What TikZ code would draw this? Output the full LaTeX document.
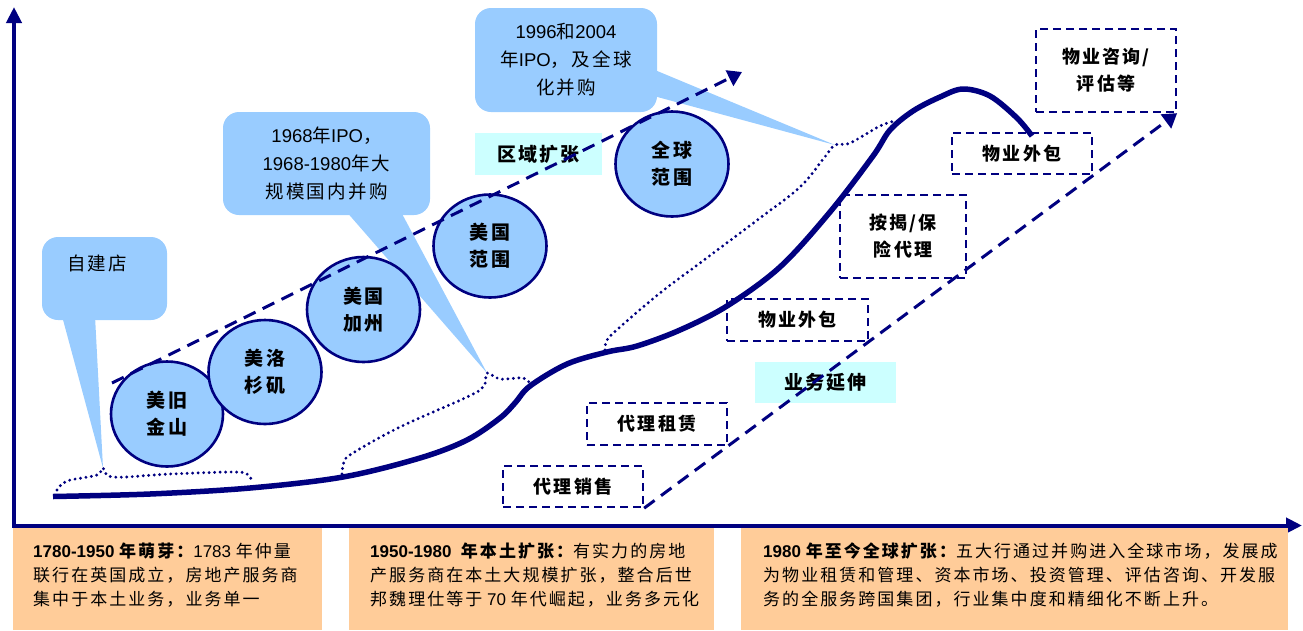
\documentclass[tikz,border=0pt]{standalone}
\usepackage{fontspec}
\setmainfont{Noto Sans CJK SC}[LetterSpace=12]
\newfontfamily\lat{Liberation Sans}
\usetikzlibrary{arrows.meta,shapes.geometric}
\definecolor{navy}{RGB}{0,0,128}
\definecolor{lblue}{RGB}{153,204,255}
\definecolor{cyanbox}{RGB}{204,255,255}
\definecolor{peach}{RGB}{255,204,153}
\tikzset{
 circ/.style={ellipse, draw=navy, line width=2.6pt, fill=lblue, inner sep=0pt, align=center, font=\fontsize{19}{27}\selectfont\bfseries},
 dbox/.style={draw=navy, line width=2.3pt, dash pattern=on 8pt off 5pt, inner sep=0pt, align=center, font=\fontsize{18}{27}\selectfont\bfseries},
 lbl/.style={fill=cyanbox, inner sep=0pt, font=\fontsize{19}{24}\selectfont\bfseries},
 callout/.style={fill=lblue, rounded corners=16pt, inner sep=0pt, align=center, font=\fontsize{18.5}{28}\selectfont},
 ctext/.style={inner sep=0pt, font=\fontsize{18.5}{28}\selectfont},
 ptr/.style={fill=lblue},
 pbox/.style={fill=peach, inner sep=0pt},
 ptext/.style={align=left, inner sep=0pt, font=\fontsize{17}{24}\selectfont},
 curve/.style={navy, line width=5.5pt, line join=round, line cap=butt},
 dots/.style={navy, line width=3.2pt, line cap=round, dash pattern=on 0pt off 5.5pt},
 darr/.style={navy, line width=3pt, dash pattern=on 13pt off 8pt, -{Triangle[length=14pt,width=17pt]}},
 axis/.style={navy, line width=4pt, -{Triangle[length=16pt,width=15pt]}},
}
\begin{document}
\begin{tikzpicture}[x=1pt,y=-1pt]
\useasboundingbox (0,0) rectangle (1303,630);

% axes
\coordinate (o) at (14,525.5);
\coordinate (ytip) at (14,7);
\coordinate (xtip) at (1302,525.5);
\draw[axis] ([yshift=-2pt]o) -- (ytip);
\draw[axis] ([xshift=-2pt]o) -- (xtip);

% bottom text boxes
\node[pbox, minimum width=309pt, minimum height=102pt, anchor=north west] (p1) at (13,528) {};
\node[pbox, minimum width=365pt, minimum height=102pt, anchor=north west] (p2) at (349,528) {};
\node[pbox, minimum width=547pt, minimum height=102pt, anchor=north west] (p3) at (741,528) {};
\node[ptext, anchor=west] (p1t) at (33,575) {{\lat\bfseries 1780-1950 }{\bfseries 年萌芽：}{\lat 1783 }年仲量\\联行在英国成立，房地产服务商\\集中于本土业务，业务单一};
\node[ptext, anchor=west] (p2t) at (370,575) {{\lat\bfseries 1950-1980\ \ }{\bfseries 年本土扩张：}有实力的房地\\产服务商在本土大规模扩张，整合后世\\邦魏理仕等于{\lat\ 70 }年代崛起，业务多元化};
\node[ptext, anchor=west] (p3t) at (763,575) {{\lat\bfseries 1980 }{\bfseries 年至今全球扩张：}五大行通过并购进入全球市场，发展成\\为物业租赁和管理、资本市场、投资管理、评估咨询、开发服\\务的全服务跨国集团，行业集中度和精细化不断上升。};

% callouts
\node[callout, minimum width=125pt, minimum height=83pt] (k1) at (104.5,278.5) {};
\coordinate (k1tip) at (103,468);
\fill[ptr] (62,316) -- (k1tip) -- (95,316) -- cycle;
\node[ctext] (k1t) at (97,263) {自建店};

\node[callout, minimum width=207pt, minimum height=103pt] (k2) at (326.5,163.5) {{\lat 1968}年{\lat IPO}，\\{\lat 1968-1980}年大\\规模国内并购};
\coordinate (k2tip) at (487,373);
\fill[ptr] (345,210) -- (k2tip) -- (400,210) -- cycle;

\node[callout, minimum width=182pt, minimum height=104pt] (k3) at (566,60) {{\lat 1996}和{\lat 2004}\\年{\lat IPO}，及全球\\化并购};
\coordinate (k3tip) at (835,145);
\fill[ptr] (650,68) -- (k3tip) -- (650,95) -- cycle;

% cyan labels
\node[lbl, minimum width=127pt, minimum height=42pt] (l1) at (538.5,154) {区域扩张};
\node[lbl, minimum width=141pt, minimum height=41pt] (l2) at (825.5,382.5) {业务延伸};

% circles
\node[circ, minimum width=112pt, minimum height=105pt] (c1) at (167,414) {美旧\\金山};
\node[circ, minimum width=113pt, minimum height=104pt] (c2) at (265,372) {美洛\\杉矶};
\node[circ, minimum width=113pt, minimum height=105pt] (c3) at (363.5,309.5) {美国\\加州};
\node[circ, minimum width=113pt, minimum height=103pt] (c4) at (490,246) {美国\\范围};
\node[circ, minimum width=113pt, minimum height=105pt] (c5) at (672,164) {全球\\范围};

% dashed boxes
\node[dbox, minimum width=140pt, minimum height=41pt] (b1) at (573,486.5) {代理销售};
\node[dbox, minimum width=140pt, minimum height=42pt] (b2) at (657,424) {代理租赁};
\node[dbox, minimum width=141pt, minimum height=42pt] (b3) at (797.5,320) {物业外包};
\node[dbox, minimum width=126pt, minimum height=83pt] (b4) at (903,236.5) {按揭/保\\险代理};
\node[dbox, minimum width=140pt, minimum height=41pt] (b5) at (1022,153.5) {物业外包};
\node[dbox, minimum width=140pt, minimum height=83pt] (b6) at (1106,70.5) {物业咨询/\\评估等};

% dashed trend arrows
\coordinate (u0) at (112,383);
\coordinate (u1) at (742,72);
\draw[darr] (u0) -- (u1);
\draw[darr] (b1.south east) -- (b6.south east);

% dotted brackets
\draw[dots] plot[smooth, tension=0.6] coordinates {(57,490) (67,481) (97,475) (k1tip) (113,477) (170,474) (233,472) (247,474) (252,481)};
\draw[dots] plot[smooth, tension=0.6] coordinates {(342,474) (344,462) (353,453) (400,427) (467,397) (484,386) (k2tip) (500,379) (523,378) (530,384)};
\draw[dots] plot[smooth, tension=0.6] coordinates {(605,350) (607,340) (620,327) (660,293) (700,263) (760,218) (800,187) (824,158) (k3tip) (850,143) (880,126) (895,121)};

% main curve
\draw[curve] plot[smooth, tension=0.55] coordinates {(53,496.5) (150,494) (250,488) (343,477) (420,458) (467,440) (500,418) (515,403) (530,386) (567,364) (607,352) (637,346) (680,330) (727,306) (780,267) (830,212) (873,156) (890,130) (913,111) (940,97) (963,89) (990,96) (1017,118) (1032,136)};
\end{tikzpicture}
\end{document}
